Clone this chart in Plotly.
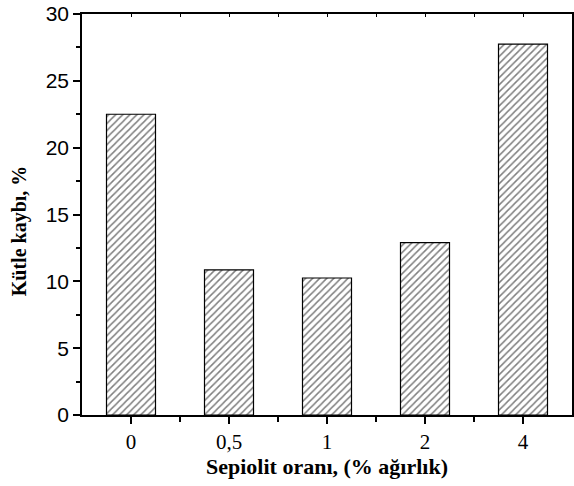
import plotly.graph_objects as go

categories = ["0", "0,5", "1", "2", "4"]
mass_loss = [22.5, 10.85, 10.25, 12.9, 27.75]
y_ticks = [0, 5, 10, 15, 20, 25, 30]

fig = go.Figure()
fig.add_trace(go.Bar(
    x=list(range(len(categories))), y=mass_loss, width=0.5,
    marker=dict(color="white", line=dict(color="black", width=1.2),
                pattern=dict(shape="/", fgcolor="black", bgcolor="white", size=5, solidity=0.3)),
    showlegend=False,
))
fig.add_trace(go.Scatter(x=[0], y=[0], xaxis="x2", mode="markers",
                         marker=dict(opacity=0), showlegend=False, hoverinfo="skip"))

fig.update_layout(
    width=574, height=486,
    margin=dict(l=82, r=0, t=14, b=71),
    plot_bgcolor="white", paper_bgcolor="white",
    xaxis=dict(range=[-0.5, 4.5], tickmode="array", tickvals=list(range(len(categories))),
               ticktext=categories, ticks="outside", ticklen=7, tickwidth=1.5, tickcolor="black",
               showline=True, linecolor="black", linewidth=1.5, mirror=True, showgrid=False,
               zeroline=False,
               tickfont=dict(family="Liberation Serif, Times New Roman, serif", size=21, color="black"),
               minor=dict(tickvals=[0.5, 1.5, 2.5, 3.5], ticks="outside", ticklen=5,
                          tickwidth=1.5, tickcolor="black")),
    xaxis2=dict(range=[-0.5, 4.5], overlaying="x", side="top", tickmode="array",
                tickvals=[0, 0.5, 1, 1.5, 2, 2.5, 3, 3.5, 4], showticklabels=False,
                ticks="inside", ticklen=3, tickwidth=1, tickcolor="black", showgrid=False,
                zeroline=False, showline=False),
    yaxis=dict(range=[0, 30], tickmode="array", tickvals=y_ticks, ticks="outside", ticklen=7,
               tickwidth=1.5, tickcolor="black", showline=True, linecolor="black", linewidth=1.5,
               mirror=True, showgrid=False, zeroline=False,
               tickfont=dict(family="Liberation Sans, Arial, sans-serif", size=21, color="black"),
               minor=dict(tickvals=[2.5, 7.5, 12.5, 17.5, 22.5, 27.5], ticks="outside", ticklen=4,
                          tickwidth=1.5, tickcolor="black")),
    annotations=[
        dict(text="<b>Sepiolit oranı, (% ağırlık)</b>", xref="paper", yref="paper",
             x=(328 - 82) / 492, y=-(466 - 415) / 401, xanchor="center", yanchor="middle",
             showarrow=False,
             font=dict(family="Liberation Serif, Times New Roman, serif", size=22, color="black")),
        dict(text="<b>Kütle kaybı, %</b>", xref="paper", yref="paper", textangle=-90,
             x=-(82 - 20) / 492, y=(415 - 231) / 401, xanchor="center", yanchor="middle",
             showarrow=False,
             font=dict(family="Liberation Serif, Times New Roman, serif", size=20, color="black")),
    ],
)

fig.write_html("out.html")
